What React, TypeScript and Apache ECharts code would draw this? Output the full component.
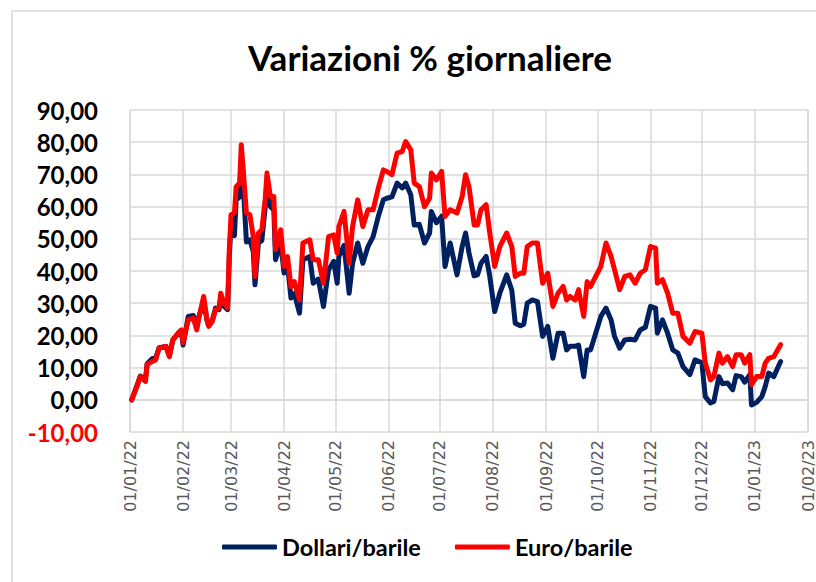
import React, { useEffect, useRef } from "react";
import * as echarts from "echarts";

const dates: string[] = [
  "2022-01-02","2022-01-05","2022-01-07","2022-01-10","2022-01-11","2022-01-14","2022-01-16","2022-01-18","2022-01-22","2022-01-24",
  "2022-01-26","2022-01-29","2022-01-31","2022-02-01","2022-02-04","2022-02-07","2022-02-09","2022-02-10","2022-02-13","2022-02-15",
  "2022-02-16","2022-02-18","2022-02-20","2022-02-22","2022-02-23","2022-02-25","2022-02-27","2022-02-28","2022-03-01","2022-03-03",
  "2022-03-04","2022-03-06","2022-03-07","2022-03-08","2022-03-10","2022-03-12","2022-03-14","2022-03-15","2022-03-17","2022-03-19",
  "2022-03-21","2022-03-22","2022-03-24","2022-03-26","2022-03-27","2022-03-30","2022-04-01","2022-04-03","2022-04-05","2022-04-07",
  "2022-04-10","2022-04-12","2022-04-16","2022-04-18","2022-04-21","2022-04-24","2022-04-27","2022-04-30","2022-05-02","2022-05-03",
  "2022-05-06","2022-05-09","2022-05-11","2022-05-14","2022-05-17","2022-05-20","2022-05-23","2022-05-26","2022-05-29","2022-05-31",
  "2022-06-03","2022-06-06","2022-06-09","2022-06-11","2022-06-14","2022-06-16","2022-06-19","2022-06-22","2022-06-25","2022-06-26",
  "2022-06-29","2022-07-02","2022-07-04","2022-07-07","2022-07-11","2022-07-14","2022-07-16","2022-07-18","2022-07-21","2022-07-23",
  "2022-07-25","2022-07-28","2022-07-30","2022-08-02","2022-08-05","2022-08-09","2022-08-12","2022-08-14","2022-08-17","2022-08-19",
  "2022-08-21","2022-08-24","2022-08-27","2022-08-30","2022-09-02","2022-09-05","2022-09-08","2022-09-11","2022-09-13","2022-09-15",
  "2022-09-18","2022-09-20","2022-09-23","2022-09-25","2022-09-27","2022-09-30","2022-10-03","2022-10-06","2022-10-09","2022-10-11",
  "2022-10-14","2022-10-17","2022-10-20","2022-10-23","2022-10-26","2022-10-29","2022-11-01","2022-11-04","2022-11-05","2022-11-08",
  "2022-11-11","2022-11-14","2022-11-17","2022-11-20","2022-11-24","2022-11-27","2022-12-01","2022-12-03","2022-12-06","2022-12-08",
  "2022-12-11","2022-12-13","2022-12-16","2022-12-19","2022-12-21","2022-12-24","2022-12-26","2022-12-29","2022-12-30","2023-01-02",
  "2023-01-05","2023-01-07","2023-01-09","2023-01-12","2023-01-16",
];

const euroBarile: number[] = [
  0, 4.1, 7.2, 5.7, 10.9, 11.9, 12.4, 16.0, 16.6, 13.4,
  18.6, 20.7, 21.7, 17.7, 24.8, 25.4, 21.7, 24.8, 32.1, 24.8,
  22.8, 24.3, 28, 28.5, 33.1, 30, 28.5, 46.6, 57.5, 58,
  66.2, 67.3, 79.2, 72.5, 58, 57.5, 50.7, 38.3, 51.8, 52.8,
  62.6, 70.4, 63.1, 63.1, 46.6, 52.8, 41.4, 44.5, 35.2, 36.7,
  31.0, 48.7, 49.7, 43.5, 43.5, 36.2, 50.7, 51.2, 45.6, 53.8,
  58.5, 42.5, 53.8, 62.1, 53.8, 59, 59, 65.7, 71.4, 70.9,
  69.9, 76.6, 77.1, 80.2, 77.6, 67.3, 66.2, 60, 62.6, 70.4,
  68.3, 70.9, 56.9, 59, 58, 63.1, 69.9, 66.2, 54.3, 54.3,
  59, 60.6, 52.3, 41.4, 47.6, 51.8, 47.6, 38.3, 39.3, 39.3,
  47.6, 48.7, 48.7, 36.2, 39.3, 29, 33.1, 35.2, 31, 32.1,
  31, 34.2, 25.9, 36.7, 35.2, 38.3, 41.4, 48.7, 44.5, 40.4,
  34.2, 38.3, 38.8, 36.2, 39.3, 40.4, 47.6, 47.1, 36.2, 37.3,
  33.1, 26.9, 26.9, 19.7, 17.6, 21.2, 20.7, 11.4, 6.2, 7.2,
  14.5, 11.4, 13.4, 10.3, 14, 14, 11.4, 14, 4.7, 7.2,
  7.2, 11.4, 12.9, 13.4, 17.1,
];

const dollariBarile: number[] = [
  0, 4.3, 7.4, 6.0, 11.2, 12.8, 13.0, 16.2, 16.6, 13.6,
  18.6, 20.4, 21.4, 17.0, 25.9, 26.2, 22.5, 25.4, 30.5, 24.6,
  23.0, 24.6, 28.5, 28.0, 31.5, 29, 28.0, 44.5, 54.0, 51,
  62, 63, 74, 68, 49, 49.7, 46, 35.7, 48.7, 49.5,
  60, 66.2, 60, 59, 43.5, 48.7, 39.4, 42, 31.6, 33,
  26.9, 43.5, 44.5, 36.2, 37.5, 29, 40.4, 43, 36.2, 44.5,
  48, 33.1, 42.4, 48.7, 42.4, 47.6, 50.7, 56.9, 62.1, 62.6,
  63, 67.3, 65.8, 67.3, 63.7, 54.3, 54.5, 48.7, 51.8, 58.5,
  55, 57, 41.4, 48.7, 38.8, 47.6, 51.8, 45.6, 38.5, 38.8,
  42.4, 44.5, 38.8, 27.4, 33.1, 38.8, 34, 23.8, 23, 23.5,
  30, 31, 30.5, 19.7, 22.8, 12.9, 20.7, 20.7, 15.5, 16.6,
  16.6, 17, 7.2, 15.5, 15.5, 20.7, 25.9, 28.5, 24.8, 19.7,
  16, 18.6, 18.8, 18.6, 21.7, 22.5, 29, 28.5, 20.7, 24.8,
  20.7, 15.5, 14.5, 10.3, 7.8, 12.4, 11.5, 1.0, -1.0, -0.5,
  7.2, 5.0, 5.2, 3.1, 7.5, 7.2, 5.5, 7.8, -1.6, -0.8,
  1.0, 4.1, 8.3, 7.2, 11.9,
];

const seriesNames: string[] = ["Dollari/barile", "Euro/barile"];
const titleText = "Variazioni % giornaliere";
const yMin = -10;
const yMax = 90;
const yStep = 10;
const xMin = "2022-01-01";
const xMax = "2023-02-01";

function pad(n: number): string {
  return n < 10 ? "0" + n : String(n);
}

export default function App() {
  const ref = useRef<HTMLDivElement>(null);
  useEffect(() => {
    if (!ref.current) return;
    const chart = echarts.init(ref.current, null, { renderer: "svg" });
    const day = 86400000;
    chart.setOption({
      animation: false,
      backgroundColor: "#ffffff",
      title: {
        text: titleText,
        left: 425,
        top: 34,
        textAlign: "center",
        textStyle: {
          fontFamily: "Lato",
          fontWeight: "bold",
          fontSize: 35,
          color: "#000000",
        },
      },
      legend: {
        left: 217,
        top: 530,
        itemWidth: 55,
        itemHeight: 5,
        itemGap: 34,
        icon: "roundRect",
        textStyle: {
          fontFamily: "Lato",
          fontWeight: "bold",
          fontSize: 23.5,
          color: "#000000",
          padding: [0, 0, 0, 0],
        },
        data: seriesNames,
      },
      graphic: [
        {
          type: "rect",
          shape: { x: 12, y: 11, width: 900, height: 700 },
          style: { fill: "none", stroke: "#D9D9D9", lineWidth: 1.5 },
          silent: true,
          z: -10,
        },
      ],
      grid: {
        left: 130,
        right: 4,
        top: 110,
        bottom: 150,
        containLabel: false,
      },
      xAxis: {
        type: "time",
        min: xMin,
        max: xMax,
        minInterval: 28 * day,
        maxInterval: 31 * day,
        splitNumber: 13,
        axisLine: { show: true, lineStyle: { color: "#D9D9D9", width: 1.5 } },
        axisTick: { show: false },
        splitLine: { show: true, lineStyle: { color: "#D9D9D9", width: 1.5 } },
        axisLabel: {
          rotate: 90,
          margin: 8,
          color: "#595959",
          fontFamily: "DejaVu Sans",
          fontSize: 16,
          showMinLabel: true,
          showMaxLabel: true,
          hideOverlap: false,
          formatter: (v: number) => {
            const d = new Date(v);
            return pad(d.getDate()) + "/" + pad(d.getMonth() + 1) + "/" + pad(d.getFullYear() % 100);
          },
        },
      },
      yAxis: {
        type: "value",
        min: yMin,
        max: yMax,
        interval: yStep,
        axisLine: { show: false },
        axisTick: { show: false },
        splitLine: { show: true, lineStyle: { color: "#D9D9D9", width: 1.5 } },
        axisLabel: {
          margin: 32,
          fontFamily: "Lato",
          fontWeight: "bold",
          fontSize: 24,
          color: (v: any) => (Number(v) < 0 ? "#FF0000" : "#000000"),
          formatter: (v: number) => v.toFixed(2).replace(".", ","),
        },
      },
      series: [
        {
          name: seriesNames[0],
          type: "line",
          showSymbol: false,
          symbol: "none",
          data: dates.map((d, i) => [d, dollariBarile[i]]),
          lineStyle: { color: "#002060", width: 5, join: "round", cap: "round" },
          itemStyle: { color: "#002060" },
          z: 2,
        },
        {
          name: seriesNames[1],
          type: "line",
          showSymbol: false,
          symbol: "none",
          data: dates.map((d, i) => [d, euroBarile[i]]),
          lineStyle: { color: "#FF0000", width: 5, join: "round", cap: "round" },
          itemStyle: { color: "#FF0000" },
          z: 3,
        },
      ],
    });
    return () => chart.dispose();
  }, []);
  return <div ref={ref} style={{ width: 816, height: 582, position: "absolute", left: 0, top: 0 }} />;
}
